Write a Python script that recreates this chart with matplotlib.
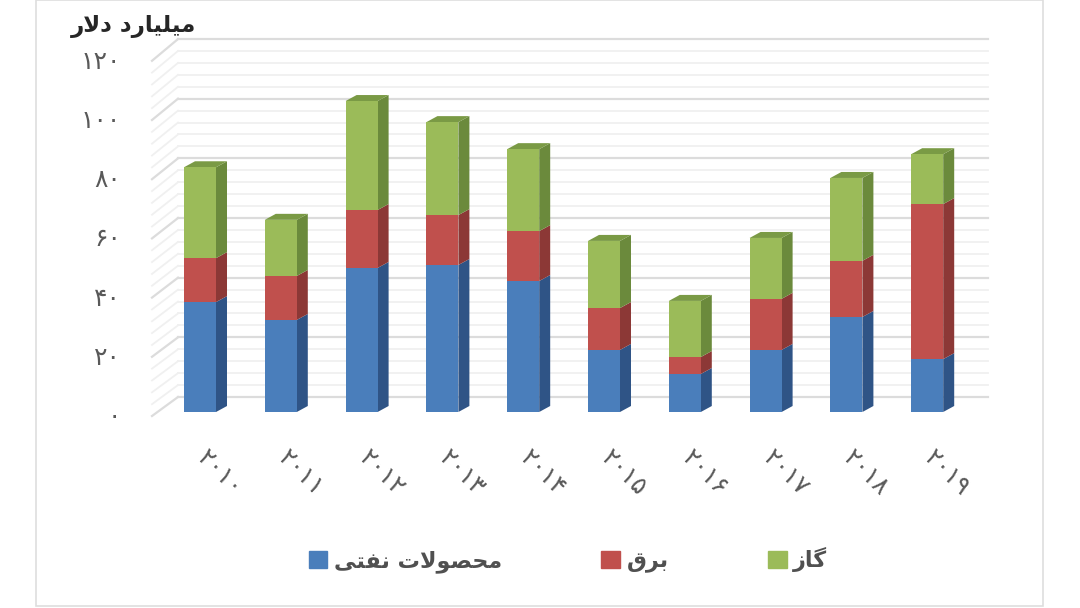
import matplotlib
matplotlib.use("Agg")
import matplotlib.pyplot as plt
from matplotlib.patches import Patch, Rectangle

# Persian strings are in visual order with presentation forms, matplotlib does no shaping
title = "\ufead\ufefb\ufea9 \ufea9\ufead\ufe8e\ufbff\ufee0\ufbff\ufee3"
series_names = ["\ufbfd\ufe98\ufed4\ufee7 \ufe95\ufefb\ufeee\ufebc\ufea4\ufee3",
                "\ufed5\ufeae\ufe91",
                "\ufeaf\ufe8e\ufb94"]
years = ["۲۰۱۰", "۲۰۱۱", "۲۰۱۲", "۲۰۱۳", "۲۰۱۴", "۲۰۱۵", "۲۰۱۶", "۲۰۱۷", "۲۰۱۸", "۲۰۱۹"]
y_ticks = [0, 20, 40, 60, 80, 100, 120]
y_labels = ["۰", "۲۰", "۴۰", "۶۰", "۸۰", "۱۰۰", "۱۲۰"]

oil = [37.0, 31.0, 48.5, 49.5, 44.1, 20.9, 12.8, 20.9, 32.0, 17.8]
power = [14.8, 14.8, 19.5, 16.8, 16.8, 14.1, 5.7, 17.2, 18.9, 52.2]
gas = [30.6, 18.9, 36.7, 31.3, 27.6, 22.6, 18.9, 20.5, 27.9, 16.8]

front = ["#4a7ebb", "#c0504d", "#9bbb59"]
side = ["#2f5486", "#8c3836", "#6b8a3c"]
top = ["#3d6a9e", "#a04340", "#7a9a45"]

# pixel layout of the chart
W, H = 1080, 608
X0, DX = 200, 80.8
Y0, DY = 412, 2.97


def px_x(p):
    return (p - X0) / DX


def px_y(p):
    return (Y0 - p) / DY


fig = plt.figure(figsize=(W / 100, H / 100), dpi=100)
ax = fig.add_axes([0, 0, 1, 1])
ax.set_xlim(px_x(0), px_x(W))
ax.set_ylim(px_y(H), px_y(0))
ax.axis("off")

ax.add_patch(Rectangle((px_x(36), px_y(606)), 1007 / DX, 606 / DY, fc="white", ec="#dedede", lw=1.2))

# back wall grid and left wall diagonals, a line every 4 units
for v in range(0, 124, 4):
    major = v % 20 == 0
    color = "#dcdcdc" if major else "#f0f0f0"
    lw = 1.6 if major else 1.3
    back = px_y(397) + v * 2.983 / DY
    left = px_y(416) + v * 2.96 / DY
    ax.plot([px_x(178), px_x(988)], [back, back], color=color, lw=lw, zorder=1)
    ax.plot([px_x(152), px_x(178)], [left, back], color=color, lw=lw, zorder=1)

# bars, front face from ax.bar plus side and top faces
width = 32 / DX
depth_x = 11 / DX
depth_y = 6 / DY
for i in range(len(years)):
    bottom = 0
    values = [oil[i], power[i], gas[i]]
    for k, val in enumerate(values):
        right = i + width / 2
        ax.fill([right, right + depth_x, right + depth_x, right],
                [bottom, bottom + depth_y, bottom + val + depth_y, bottom + val],
                color=side[k], lw=0, zorder=3)
        ax.bar(i, val, width=width, bottom=bottom, color=front[k], lw=0, zorder=4)
        bottom += val
    left = i - width / 2
    ax.fill([left, left + depth_x, left + width + depth_x, left + width],
            [bottom, bottom + depth_y, bottom + depth_y, bottom],
            color=top[2], lw=0, zorder=3)

for v, lab in zip(y_ticks, y_labels):
    ax.text(px_x(121), px_y(417) + v * 2.96 / DY, lab, ha="right", va="center",
            fontsize=18, color="#595959", family="DejaVu Sans")

for i, lab in enumerate(years):
    ax.text(i + 20 / DX, px_y(473), lab, ha="center", va="center", rotation=-45,
            fontsize=18, color="#595959", family="DejaVu Sans")

ax.text(px_x(71), px_y(26), title, ha="left", va="center", fontsize=16.5,
        fontweight="bold", color="#262626", family="DejaVu Sans")

handles = [Patch(color=c, label=n) for c, n in zip(front, series_names)]
ax.legend(handles=handles, loc="center", bbox_to_anchor=(568 / W, 1 - 560 / H), ncols=3,
          frameon=False, labelcolor="#505050", handlelength=0.85, handleheight=0.85,
          columnspacing=4.45, handletextpad=0.3,
          prop={"family": "DejaVu Sans", "size": 16, "weight": "bold"})

fig.savefig("out.png", dpi=100)
